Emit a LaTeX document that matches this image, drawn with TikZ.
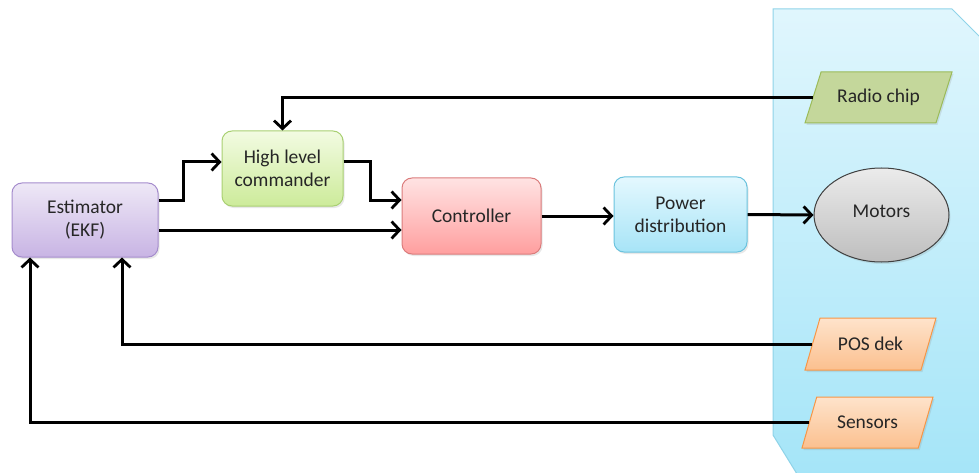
\documentclass[tikz,border=0pt]{standalone}
\usepackage{fontspec}
\setmainfont{Carlito}
\usetikzlibrary{shapes.geometric,arrows.meta,shadows}
\definecolor{txt}{HTML}{262626}
\definecolor{pnltop}{HTML}{E0F6FD}
\definecolor{pnlbot}{HTML}{A5E5F8}
\definecolor{pnl}{HTML}{8FD3E8}
\begin{document}
\begin{tikzpicture}[x=1pt,y=-1pt,
  font=\fontsize{19.5}{23}\selectfont, text=txt,
  box/.style={rectangle, rounded corners=10pt, align=center, line width=1pt,
    drop shadow={opacity=0.18, shadow xshift=1.5pt, shadow yshift=-2pt}},
  para/.style={trapezium, trapezium left angle=71, trapezium right angle=109,
    trapezium stretches body, inner ysep=15pt, line width=1pt, align=center,
    drop shadow={opacity=0.18, shadow xshift=1.5pt, shadow yshift=-2pt}},
  arr/.style={line width=3pt, -{Straight Barb[length=8pt,width=17pt,line width=2.8pt]}},
]
\useasboundingbox (0,0) rectangle (979,473);
% panel
\shade[top color=pnltop, bottom color=pnlbot]
  (797,474) -- (773,435) -- (773,9) -- (952,9) -- (980,37) -- (980,474) -- cycle;
\draw[pnl, line width=1pt] (797,474) -- (773,435) -- (773,9) -- (952,9) -- (980,37);

\node[box, minimum width=146pt, minimum height=74pt, draw={rgb,255:red,165;green,140;blue,205},
  top color={rgb,255:red,238;green,232;blue,246}, bottom color={rgb,255:red,200;green,180;blue,228}]
  (est) at (85,220) {Estimator\\(EKF)};
\node[box, minimum width=121pt, minimum height=75pt, draw={rgb,255:red,169;green,208;blue,114},
  top color={rgb,255:red,242;green,251;blue,226}, bottom color={rgb,255:red,205;green,235;blue,154}]
  (hlc) at (282.5,168.5) {High level\\commander};
\node[box, minimum width=139pt, minimum height=76pt, draw={rgb,255:red,219;green,124;blue,124},
  top color={rgb,255:red,255;green,227;blue,227}, bottom color={rgb,255:red,255;green,159;blue,159}]
  (ctrl) at (471.5,216) {Controller};
\node[box, minimum width=133pt, minimum height=75pt, draw={rgb,255:red,107;green,195;blue,222},
  top color={rgb,255:red,228;green,248;blue,254}, bottom color={rgb,255:red,167;green,228;blue,247}]
  (power) at (680.5,214.5) {Power\\distribution};

\node[para, minimum width=147pt, minimum height=51pt, fill={rgb,255:red,196;green,215;blue,155},
  draw={rgb,255:red,155;green,187;blue,89}] (radio) at (878.5,97.5) {Radio chip};
\node[ellipse, minimum width=135pt, minimum height=94pt, line width=1pt,
  draw={rgb,255:red,64;green,64;blue,64},
  top color={rgb,255:red,235;green,235;blue,235}, bottom color={rgb,255:red,190;green,190;blue,190},
  drop shadow={opacity=0.18, shadow xshift=1.5pt, shadow yshift=-2pt}]
  (motors) at (881.5,215) {\raisebox{7pt}{Motors}};
\node[para, minimum width=131pt, minimum height=52pt,
  top color={rgb,255:red,254;green,227;blue,203}, bottom color={rgb,255:red,251;green,192;blue,143},
  draw={rgb,255:red,247;green,150;blue,70}] (pos) at (870.5,344) {POS dek};
\node[para, minimum width=131pt, minimum height=51pt,
  top color={rgb,255:red,254;green,227;blue,203}, bottom color={rgb,255:red,251;green,192;blue,143},
  draw={rgb,255:red,247;green,150;blue,70}] (sens) at (867.5,422.5) {Sensors};

% connectors
\draw[arr] ([yshift=20pt]est.east) -- ++(25,0) |- ([yshift=6.5pt]hlc.west);
\draw[arr] ([yshift=6.5pt]hlc.east) -- ++(27,0) |- ([yshift=16pt]ctrl.west);
\draw[arr] ([yshift=-10pt]est.east) -- ([yshift=-14pt]ctrl.west);
\draw[arr] (ctrl.east) -- (power.west |- ctrl.east);
\draw[arr] (power.east) -- (motors.west);
\draw[arr] (radio.west) -| (hlc.north);
\draw[arr] (pos.west) -| ([xshift=37pt]est.south);
\draw[arr] (sens.west) -| ([xshift=-55pt]est.south);
\end{tikzpicture}
\end{document}
